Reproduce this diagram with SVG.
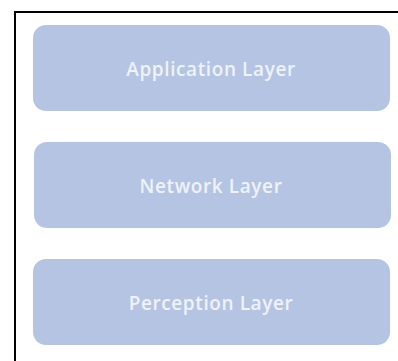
<svg xmlns="http://www.w3.org/2000/svg" width="398" height="361" viewBox="0 0 398 361">
<style>
.layer{fill:#b5c4e3}
.lbl{font-family:"Open Sans","Liberation Sans",sans-serif;font-size:19px;font-weight:600;letter-spacing:0.6px;fill:#eef2f9;text-anchor:middle}
</style>
<rect x="0" y="0" width="398" height="361" fill="#ffffff"/>
<rect x="15" y="12" width="400" height="360" fill="none" stroke="#000000" stroke-width="2"/>
<g id="application">
<rect class="layer" x="33" y="25" width="357" height="86" rx="13"/>
<text class="lbl" x="211" y="76">Application Layer</text>
</g>
<g id="network">
<rect class="layer" x="34" y="142" width="357" height="86" rx="13"/>
<text class="lbl" x="211" y="193">Network Layer</text>
</g>
<g id="perception">
<rect class="layer" x="33" y="259" width="357" height="86" rx="13"/>
<text class="lbl" x="211" y="310">Perception Layer</text>
</g>
<g id="connectors"/>
</svg>
